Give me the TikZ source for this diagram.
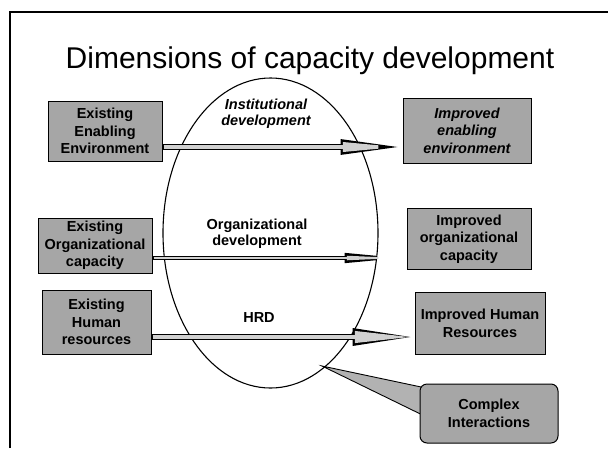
\documentclass[tikz,border=0pt]{standalone}
\usepackage{fontspec}
\setmainfont{Liberation Sans}
\usetikzlibrary{arrows.meta,calc,backgrounds,shapes.geometric}

\begin{document}
\begin{tikzpicture}[x=1pt, y=-1pt,
		frame/.style={line width=1.6pt},
		panel/.style={draw, line width=1pt, fill=black!35, align=center, inner sep=1pt,
			font=\fontsize{14.5}{17.5}\selectfont\bfseries},
		inlabel/.style={align=center, font=\fontsize{14.5}{16.5}\selectfont\bfseries},
		shaftout/.style n args={2}{line width=#1, -{Triangle[length=62pt,width=#2]}},
		shaftin/.style n args={2}{line width=#1-2.6pt, draw=black!18, shorten <=1pt, shorten >=2.6pt,
			-{Triangle[length=57pt,width=#2-5pt,fill=black!18]}},
	]
		\useasboundingbox (0,0) rectangle (608,448);
		\draw[frame] (10,448) -- (10,12) -- (608,12);
		\node[anchor=base, font=\fontsize{30}{36}\selectfont] (title) at (310,68) {Dimensions of capacity development};

		\node[draw, ellipse, line width=1.1pt, minimum width=215pt, minimum height=310pt] (orb) at (270.5,233) {};
		\node[inlabel, font=\fontsize{14.5}{16}\selectfont\bfseries\itshape] (inst) at (266,114) {Institutional\\development};
		\node[inlabel] (org) at (257,233.5) {Organizational\\development};
		\node[inlabel] (hrd) at (259,318) {HRD};

		\node[panel, minimum width=114pt, minimum height=60pt] (l1) at (105,131) {Existing\\Enabling\\Environment};
		\node[panel, minimum width=114pt, minimum height=55pt] (l2) at (95,245.5) {Existing\\Organizational\\capacity};
		\node[panel, minimum width=109pt, minimum height=64pt] (l3) at (96.5,322) {Existing\\Human\\resources};

		\node[panel, font=\fontsize{14.5}{17.5}\selectfont\bfseries\itshape, minimum width=128pt, minimum height=65pt] (r1) at (467,130.5) {Improved\\enabling\\environment};
		\node[panel, minimum width=124pt, minimum height=61pt] (r2) at (469,239) {Improved\\organizational\\capacity};
		\node[panel, minimum width=130pt, minimum height=62pt] (r3) at (480,323.5) {Improved Human\\Resources};

		\foreach \s/\t/\y/\w/\h in {l1/r1/147/6pt/14pt, l2/r2/258/4.4pt/9pt, l3/r3/337/6.4pt/16pt} {
			\coordinate (hgt) at (0,\y);
			\draw[shaftout={\w}{\h}] (\s.east |- hgt) -- (\t.west |- hgt);
			\draw[shaftin={\w}{\h}] (\s.east |- hgt) -- (\t.west |- hgt);
		}

		\node[panel, rounded corners=7pt, minimum width=138pt, minimum height=59pt] (cx) at (489,413.5) {Complex\\Interactions};
		\coordinate (tip) at (322,366);
		\begin{scope}[on background layer]
			\filldraw[line width=0.9pt, fill=black!30] (tip) -- ($(cx.west)+(4,-26)$) -- ($(cx.west)+(4,2)$) -- cycle;
		\end{scope}
\end{tikzpicture}
\end{document}
